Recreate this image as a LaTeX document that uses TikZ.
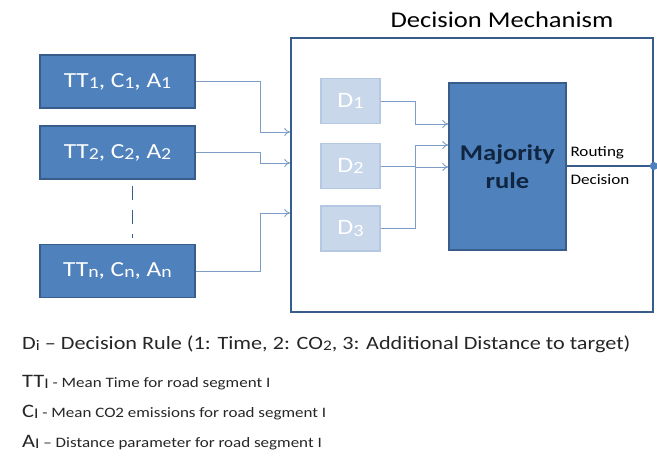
\documentclass[tikz,border=0pt]{standalone}
\usepackage{fontspec}
\setmainfont{Carlito}[FakeStretch=1.18]
\usepackage{xcolor}
\definecolor{dmfill}{HTML}{4F81BD}
\definecolor{dmedge}{HTML}{385D8A}
\definecolor{dmlight}{HTML}{C9D7EB}
\definecolor{dmlightedge}{HTML}{B4C8E3}
\definecolor{dmwire}{HTML}{7E9DC6}
\definecolor{dmnavy}{HTML}{10253F}
\definecolor{dmtext}{HTML}{262626}
\usetikzlibrary{arrows.meta,positioning,calc}
\newcommand{\dmsb}[1]{\raisebox{-0.06em}{\scalebox{0.78}{#1}}}
\tikzset{
  dminput/.style={draw=dmedge,line width=1.3pt,fill=dmfill,text=white,minimum width=155pt,minimum height=53pt,inner sep=0pt,font=\fontsize{21.5}{25}\selectfont},
  dmrule/.style={draw=dmlightedge,line width=1.3pt,fill=dmlight,text=white,minimum width=59pt,minimum height=45pt,inner sep=0pt,font=\fontsize{22}{25}\selectfont},
  dmmajor/.style={draw=dmedge,line width=1.3pt,fill=dmfill,text=dmnavy,align=center,minimum width=117pt,minimum height=167pt,inner sep=0pt,font=\fontsize{22.5}{28}\selectfont\bfseries},
  dmframe/.style={draw=dmedge,line width=1.6pt,minimum width=362pt,minimum height=274pt,inner sep=0pt},
  dmwire/.style={-{To[length=6pt,width=8pt]},draw=dmwire,line width=0.9pt},
  dmnote/.style={anchor=base west,inner sep=0pt,text=dmtext},
}
\begin{document}
\begin{tikzpicture}[x=1pt,y=-1pt]
\useasboundingbox (0,0) rectangle (657,459);
% inputs
\node[dminput] (tt1) at (117.5,81.5) {TT\dmsb{1}, C\dmsb{1}, A\dmsb{1}};
\node[dminput] (tt2) at (117.5,152.5) {TT\dmsb{2}, C\dmsb{2}, A\dmsb{2}};
\node[dminput] (ttn) at (117.5,271) {TT\dmsb{n}, C\dmsb{n}, A\dmsb{n}};
\draw[dmedge,line width=1pt,dash pattern=on 14pt off 10pt] (tt2.south) ++(15,6) -- ++(0,52);
% decision mechanism
\node[dmframe] (mech) at (472,175) {};
\node[font=\fontsize{22.5}{26}\selectfont,text=black] (title) at (502,20) {Decision Mechanism};
\node[dmrule] (d1) at (350.5,101) {D\dmsb{1}};
\node[dmrule] (d2) at (350.5,166) {D\dmsb{2}};
\node[dmrule] (d3) at (350.5,228.5) {D\dmsb{3}};
\node[dmmajor] (maj) at (507.5,166.5) {Majority\\rule};
\node[font=\fontsize{14.5}{28}\selectfont,align=left,anchor=west,text=black] (rout) at (567,166) {Routing\\Decision};
\draw[dmwire] (tt1.east) -| (260,132) -- (mech.west |- 0,132);
\draw[dmwire] (tt2.east) -| (260,163) -- (mech.west |- 0,163);
\draw[dmwire] (ttn.east) -| (260,213) -- (mech.west |- 0,213);
\draw[dmwire] (d1.east) -| (415,124) -- (maj.west |- 0,124);
\draw[dmwire] (d2.east) -| (415,145) -- (maj.west |- 0,145);
\draw[dmwire] (d3.east) -| (415,167) -- (maj.west |- 0,167);
\draw[dmedge,line width=1.2pt] (maj.east |- 0,166) -- (mech.east |- 0,166);
\fill[dmfill] (mech.east |- 0,166) circle (4pt);
% legend
\node[dmnote,font=\fontsize{18.8}{22}\selectfont] (leg1) at (22,349) {D\dmsb{i} -- Decision Rule (1: Time, 2: CO\dmsb{2}, 3: Additional Distance to target)};
\node[dmnote] (leg2) at (22,387) {{\fontsize{19}{22}\selectfont TT\dmsb{I}}\fontsize{14.4}{16}\selectfont\ - Mean Time for road segment I};
\node[dmnote] (leg3) at (22,417) {{\fontsize{19}{22}\selectfont C\dmsb{I}}\fontsize{14.4}{16}\selectfont\ - Mean CO2 emissions for road segment I};
\node[dmnote] (leg4) at (22,447) {{\fontsize{19}{22}\selectfont A\dmsb{I}}\fontsize{14.4}{16}\selectfont\ -- Distance parameter for road segment I};
\end{tikzpicture}
\end{document}
